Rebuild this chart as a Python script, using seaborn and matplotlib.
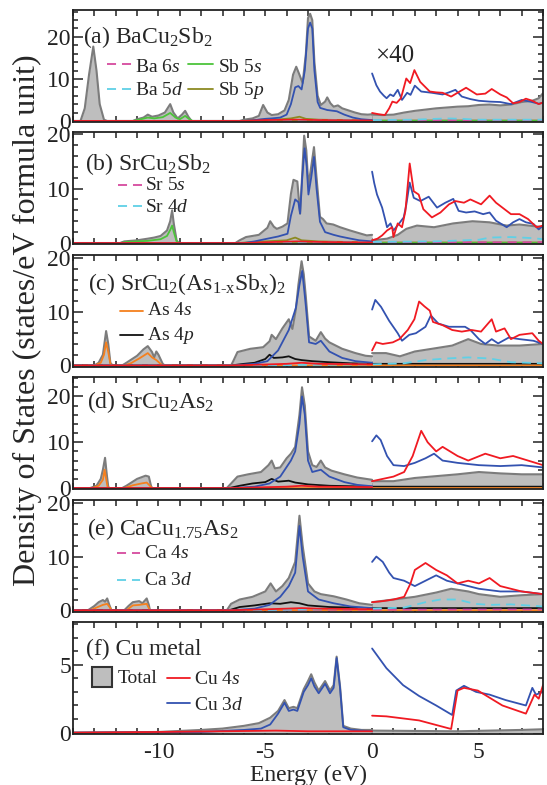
import matplotlib
matplotlib.use('Agg')
import matplotlib.pyplot as plt
import seaborn as sns
import pandas as pd
from matplotlib.ticker import MultipleLocator
from matplotlib.patches import Rectangle

# ---------------- data (energy eV, DOS) ----------------
# (a) BaCu2Sb2
A_TOT_N = [(-14,0),(-13.65,0),(-13.45,3),(-13.25,11),(-13.05,17.7),(-12.9,12),(-12.75,4),(-12.55,0.3),(-12.4,0),
           (-11.2,0),(-11.0,0.4),(-10.7,0.8),(-10.5,1.5),(-10.3,1.0),(-10.0,1.3),(-9.7,2.0),(-9.45,4.0),(-9.3,2.0),
           (-9.1,0.6),(-8.9,1.5),(-8.75,2.4),(-8.6,1.0),(-8.45,0),(-6.2,0),(-6.0,0.3),(-5.6,0.6),(-5.3,1.2),(-5.1,3.8),
           (-4.9,2.0),(-4.7,1.4),(-4.4,1.6),(-4.1,2.5),(-3.9,5),(-3.7,11),(-3.55,12.9),(-3.4,11),(-3.25,9),(-3.1,16),
           (-3.0,24.5),(-2.9,25.5),(-2.8,24),(-2.7,14),(-2.55,6),(-2.4,3.8),(-2.2,4.6),(-2.1,5.6),(-1.95,4.2),(-1.8,3.4),
           (-1.6,3.7),(-1.4,3.0),(-1.1,2.5),(-0.8,2.0),(-0.5,1.6),(-0.2,1.5),(0,1.6)]
A_TOT_P = [(0,1.5),(0.5,1.4),(1.0,1.5),(1.5,2.0),(2.0,2.4),(2.5,2.7),(3.0,3.0),(3.5,3.2),(4.0,3.4),(4.5,3.5),
           (5.0,3.8),(5.5,3.9),(6.0,3.7),(6.5,3.9),(7.0,4.5),(7.5,4.8),(7.8,5.4),(8.0,6.6)]
A_CU3D_N = [(-14,0),(-6.0,0),(-5.5,0.2),(-5.0,0.5),(-4.7,0.6),(-4.3,0.8),(-4.0,1.5),(-3.8,4),(-3.6,8.0),(-3.45,8.3),
            (-3.3,7.5),(-3.15,12),(-3.0,22),(-2.9,23.4),(-2.8,22),(-2.7,12),(-2.55,4.5),(-2.43,3.1),(-2.1,2.6),
            (-1.65,2.3),(-1.3,1.5),(-0.9,0.8),(-0.5,0.4),(0,0.2)]
A_CU3D_P = [(0,11.3),(0.2,8.5),(0.37,7.0),(0.55,6.0),(0.68,5.4),(0.85,6.3),(1.0,5.9),(1.2,7.4),(1.4,5.0),(1.64,6.7),
            (1.8,6.2),(2.0,8.4),(2.3,7.0),(2.8,6.7),(3.3,6.3),(3.6,6.8),(3.9,7.4),(4.2,5.8),(4.6,5.2),(5.0,4.8),
            (5.5,4.6),(6.0,4.5),(6.5,4.0),(7.0,5.0),(7.4,4.6),(7.8,4.1),(8.0,4.3)]
A_CU4S_N = [(-14,0),(-6,0),(-5,0.2),(-3.5,0.3),(-2.5,0.2),(0,0.1)]
A_CU4S_P = [(0,1.9),(0.3,1.6),(0.6,1.4),(0.8,3.0),(0.95,4.6),(1.15,4.3),(1.35,5.4),(1.6,10.1),(1.78,9.0),(1.98,12.1),
            (2.25,9.3),(2.7,7.0),(3.0,6.8),(3.3,6.7),(3.7,5.8),(4.1,7.0),(4.4,7.9),(4.9,6.3),(5.3,6.5),(5.6,7.6),
            (6.0,6.3),(6.3,5.6),(6.6,4.2),(6.9,4.5),(7.2,5.3),(7.5,4.8),(7.8,4.0),(8.0,4.4)]
A_SB5S = [(-14,0),(-11.2,0),(-10.9,0.3),(-10.5,0.8),(-10.2,0.6),(-9.8,0.9),(-9.45,1.9),(-9.2,0.8),(-9.0,0.4),
          (-8.75,1.2),(-8.55,0.4),(-8.4,0),(8,0)]
A_SB5P = [(-14,0),(-6,0),(-5.2,0.3),(-4.5,0.3),(-3.8,0.6),(-3.4,1.0),(-3.1,0.5),(-2.5,0.3),(0,0.1),(8,0.1)]
A_BA6S = [(-14,0),(-6,0),(-3,0.1),(0,0.1),(8,0.15)]
A_BA5D = [(-14,0),(-6,0),(-3,0.15),(0,0.2),(2,0.3),(3.5,0.6),(4.2,0.5),(5,0.3),(8,0.3)]

# (b) SrCu2Sb2
B_TOT_N = [(-14,0),(-11.8,0),(-11.6,0.3),(-11.0,0.5),(-10.5,0.8),(-10.2,1.0),(-9.9,1.3),(-9.6,2.3),(-9.45,4.0),
           (-9.36,6.0),(-9.28,3.5),(-9.15,0.5),(-9.05,0),(-6.4,0),(-6.2,0.5),(-5.9,1.1),(-5.3,1.5),(-4.9,2.8),
           (-4.77,4.0),(-4.6,3.0),(-4.46,2.6),(-4.2,3.0),(-3.96,3.6),(-3.8,9),(-3.68,11.6),(-3.5,11.3),(-3.37,5.4),
           (-3.28,12),(-3.18,19.7),(-3.08,17),(-2.98,10.5),(-2.85,14),(-2.72,17.6),(-2.6,12),(-2.44,4.8),(-2.3,4.4),
           (-2.13,3.6),(-1.82,3.4),(-1.5,2.9),(-1.03,2.3),(-0.6,1.8),(-0.25,1.4),(0,1.5)]
B_TOT_P = [(0,0.5),(0.7,0.8),(1.2,1.5),(1.6,2.6),(2.1,3.2),(2.9,2.9),(3.8,3.6),(4.7,4.0),(5.5,3.8),(6.3,3.2),
           (6.9,3.4),(8.0,2.9)]
B_CU3D_N = [(-14,0),(-6.0,0),(-5.5,0.3),(-4.9,0.8),(-4.4,1.2),(-3.96,1.7),(-3.8,5),(-3.6,8.0),(-3.45,7.5),(-3.37,5.4),
            (-3.27,12),(-3.16,17.4),(-3.06,14),(-2.98,8.9),(-2.85,12),(-2.72,15.8),(-2.6,10),(-2.44,3.9),(-2.2,2.0),
            (-1.8,1.5),(-1.5,1.2),(-1.0,0.8),(-0.6,0.5),(0,0.3)]
B_CU3D_P = [(0,13.1),(0.1,11),(0.23,8.9),(0.47,6.5),(0.6,4.5),(0.7,2.9),(0.86,3.6),(1.0,2.3),(1.25,3.5),(1.48,4.7),
            (1.6,7),(1.76,11.1),(1.95,8.3),(2.26,7.7),(2.65,8.5),(3.04,6.5),(3.43,7.4),(3.8,8.1),(4.05,5.9),(4.4,5.6),
            (4.8,5.8),(5.2,5.3),(5.5,5.6),(5.8,4.1),(6.3,2.9),(6.6,3.8),(6.9,4.4),(7.2,3.8),(7.55,3.5),(7.8,2.5),(8.0,3.2)]
B_CU4S_N = [(-14,0),(-6,0),(-4.5,0.2),(-3.5,0.3),(-2.5,0.2),(0,0.1)]
B_CU4S_P = [(0,0.5),(0.25,0.8),(0.47,1.4),(0.7,2.3),(0.94,2.9),(1.0,1.1),(1.2,3.6),(1.4,2.9),(1.56,5.9),(1.76,14.6),
            (1.95,9.5),(2.18,8.9),(2.4,6.2),(2.8,4.7),(3.2,5.6),(3.6,7.1),(3.9,7.7),(4.3,7.4),(4.6,8.0),(5.1,7.1),
            (5.5,8.7),(5.8,7.4),(6.1,6.5),(6.5,5.3),(6.9,5.3),(7.3,4.4),(7.7,2.9),(8.0,3.2)]
B_SB5S = [(-14,0),(-11.8,0),(-11.5,0.2),(-10.5,0.4),(-9.9,0.7),(-9.6,1.3),(-9.45,2.4),(-9.36,3.2),(-9.28,2.0),
          (-9.15,0.3),(-9.05,0),(8,0)]
B_SB5P = [(-14,0),(-6.3,0),(-5,0.3),(-4.0,0.5),(-3.6,1.0),(-3.3,0.5),(-2.5,0.3),(0,0.1),(8,0.1)]
B_SR5S = [(-14,0),(-6,0),(-3,0.1),(0,0.1),(8,0.15)]
B_SR4D = [(-14,0),(-6,0),(-3,0.15),(0,0.2),(3,0.3),(5,0.6),(5.5,1.0),(6.5,1.1),(7.5,0.9),(8,0.7)]

# (c) SrCu2(As1-xSbx)2
C_TOT_N = [(-14,0),(-13.0,0),(-12.8,0.5),(-12.6,2.0),(-12.45,6.4),(-12.35,4),(-12.25,0.5),(-12.15,0),(-11.7,0),
           (-11.5,0.5),(-11.0,1.8),(-10.7,3.0),(-10.5,3.6),(-10.3,2.5),(-10.2,1.5),(-10.1,2.6),(-10.0,2.0),(-9.8,0.3),
           (-9.7,0),(-6.6,0),(-6.5,0.8),(-6.3,2.5),(-5.7,3.1),(-5.1,3.4),(-4.8,4.5),(-4.7,5.7),(-4.5,4.9),(-4.2,6.9),
           (-3.9,8.6),(-3.73,6.8),(-3.57,10.4),(-3.45,15),(-3.3,19.4),(-3.2,17),(-3.1,12.7),(-2.95,5.4),(-2.64,4.6),
           (-2.4,6.2),(-2.2,5.0),(-2.0,4.3),(-1.4,3.1),(-0.78,2.3),(-0.3,1.8),(0,1.7)]
C_TOT_P = [(0,2.3),(0.65,2.3),(1.3,1.7),(2.0,2.6),(2.8,3.1),(3.75,3.7),(4.5,4.9),(5.1,4.0),(5.9,3.7),(6.9,3.7),(8.0,4.0)]
C_CU3D_N = [(-14,0),(-6.5,0),(-5.5,0.3),(-4.9,0.8),(-4.4,2.8),(-3.9,6.6),(-3.57,10.7),(-3.4,15),(-3.27,17.6),
            (-3.15,13),(-3.1,11),(-2.95,4.3),(-2.64,4.0),(-2.4,4.6),(-2.0,2.6),(-1.4,1.4),(-0.78,0.8),(0,0.5)]
C_CU3D_P = [(0,10.4),(0.15,12.2),(0.42,10.9),(0.8,8.3),(1.2,6.0),(1.4,4.6),(1.74,5.7),(2.05,6.0),(2.5,7.2),(2.75,9.3),
            (3.1,7.8),(3.6,7.2),(4.35,7.2),(4.6,6.6),(5.0,4.9),(5.3,4.0),(5.6,4.9),(5.9,4.1),(6.4,5.2),(6.9,4.9),
            (7.55,4.6),(8.0,4.0)]
C_CU4S_N = [(-14,0),(-6.5,0),(-4,0.3),(-3.3,0.5),(-2.5,0.3),(0,0.2)]
C_CU4S_P = [(0,2.8),(0.19,4.3),(0.5,4.0),(0.97,4.3),(1.28,4.9),(1.67,6.6),(1.98,8.6),(2.2,11.9),(2.45,11.0),(2.7,10.2),
            (2.85,8.1),(3.3,7.5),(3.75,6.6),(4.2,6.3),(4.66,6.6),(5.1,6.3),(5.6,8.6),(5.8,6.3),(6.2,6.9),(6.5,4.9),
            (6.9,5.7),(7.5,6.0),(7.8,4.6),(8.0,4.0)]
C_AS4S = [(-14,0),(-13.0,0),(-12.7,0.5),(-12.55,2),(-12.45,4.3),(-12.35,2.5),(-12.25,0.3),(-12.15,0),(-11.6,0),
          (-11.3,0.4),(-10.9,1.3),(-10.5,2.3),(-10.3,1.5),(-10.1,1.0),(-9.9,0.3),(-9.8,0),(8,0)]
C_AS4P = [(-14,0),(-6.6,0),(-6.0,0.3),(-5.5,0.5),(-5.0,1.2),(-4.8,2.0),(-4.6,1.4),(-4.2,1.5),(-3.9,1.7),(-3.6,1.2),
          (-3.3,1.0),(-2.8,0.8),(-2.0,0.6),(-1.0,0.4),(0,0.3),(8,0.3)]
C_SR4D = [(-14,0),(-6,0),(-3,0.1),(0,0.2),(1.5,0.4),(2.5,1.0),(3.5,1.3),(4.5,1.5),(5.5,1.3),(6.5,0.6),(8,0.4)]

# (d) SrCu2As2
D_TOT_N = [(-14,0),(-13.2,0),(-12.9,0.5),(-12.7,2),(-12.6,4),(-12.5,6.6),(-12.42,3),(-12.35,0.3),(-12.3,0),(-11.7,0),
           (-11.5,0.5),(-11.0,2.0),(-10.6,2.7),(-10.45,2.5),(-10.35,0.5),(-10.3,0),(-6.8,0),(-6.6,1.0),(-6.3,2.5),
           (-5.8,3.0),(-5.2,3.5),(-4.85,5.0),(-4.7,6.0),(-4.55,4.3),(-4.3,4.5),(-4.0,6.5),(-3.8,7.5),(-3.6,9),
           (-3.4,16),(-3.28,22),(-3.15,18),(-3.0,8),(-2.8,5.0),(-2.6,4.6),(-2.4,6.0),(-2.2,4.5),(-1.9,3.8),(-1.3,3.0),
           (-0.7,2.3),(0,1.8)]
D_TOT_P = [(0,1.5),(1,1.5),(2,2.2),(3,2.6),(4,3.0),(5,3.5),(6,3.2),(7,3.0),(8,3.0)]
D_CU3D_N = [(-14,0),(-6.5,0),(-5.5,0.3),(-4.8,1.0),(-4.3,2.5),(-3.8,6.0),(-3.6,8),(-3.4,14),(-3.28,20),(-3.15,16),
            (-3.0,6),(-2.8,3.5),(-2.4,4.0),(-2.0,2.5),(-1.3,1.3),(-0.7,0.7),(0,0.4)]
D_CU3D_P = [(0,10.2),(0.2,11.5),(0.4,10.5),(0.7,7),(1.0,5),(1.5,4.8),(2.0,5.5),(2.5,6.5),(2.9,7.5),(3.3,6),(4.0,5.5),
            (5.0,5),(6.0,4.8),(7.0,5),(8.0,4.5)]
D_CU4S_N = [(-14,0),(-6.5,0),(-4,0.3),(-3.3,0.5),(-2.5,0.3),(0,0.2)]
D_CU4S_P = [(0,1.5),(0.5,2),(1.0,2.5),(1.5,3.5),(1.9,7),(2.3,12.5),(2.6,10),(3.0,8),(3.3,9),(4.0,7),(4.5,6),(5.3,7.5),
            (6.0,6.5),(6.6,7),(7.3,6),(8.0,5)]
D_AS4S = [(-14,0),(-13.1,0),(-12.8,0.5),(-12.6,1.8),(-12.52,4.0),(-12.45,2),(-12.38,0.2),(-12.3,0),(-11.6,0),
          (-11.2,0.6),(-10.8,1.0),(-10.55,1.2),(-10.4,0.5),(-10.3,0),(8,0)]
D_AS4P = [(-14,0),(-6.7,0),(-6.2,0.5),(-5.6,1.0),(-5.0,1.3),(-4.7,2.0),(-4.4,1.4),(-3.9,1.6),(-3.6,1.2),(-3.0,0.8),
          (-2,0.5),(0,0.3),(8,0.3)]

# (e) CaCu1.75As2
E_TOT_N = [(-14,0),(-13.3,0),(-13.0,0.8),(-12.8,1.5),(-12.6,1.9),(-12.5,1.6),(-12.4,2.2),(-12.3,1.0),(-12.2,0),
           (-11.6,0),(-11.4,0.8),(-11.2,1.5),(-10.9,1.7),(-10.75,1.3),(-10.55,2.2),(-10.45,1.0),(-10.4,0),(-6.8,0),
           (-6.6,1.2),(-6.2,2.0),(-5.6,2.5),(-5.0,3.5),(-4.75,5.0),(-4.5,3.5),(-4.2,4.5),(-3.9,6.0),(-3.6,9),
           (-3.4,17.6),(-3.25,12),(-3.0,5),(-2.7,3.5),(-2.4,3.0),(-1.8,2.6),(-1.2,2.0),(-0.6,1.3),(0,1.0)]
E_TOT_P = [(0,1.5),(1,2.0),(2,2.5),(3,3.3),(3.7,4.0),(4.5,3.5),(5,3.0),(6,2.5),(7,2.8),(8,3.0)]
E_CU3D_N = [(-14,0),(-6.5,0),(-5.5,0.3),(-4.8,1.0),(-4.3,2.5),(-3.9,4.5),(-3.6,7),(-3.4,15.7),(-3.25,10),(-3.0,3.5),
            (-2.5,2.0),(-1.8,1.3),(-1.0,0.7),(0,0.4)]
E_CU3D_P = [(0,9.0),(0.2,10.0),(0.5,9.0),(0.8,7.0),(1.0,6.0),(1.5,5.5),(2.0,4.5),(2.5,5.5),(3.0,6.5),(3.5,5.5),
            (4.0,5.0),(5.0,4.0),(6.0,3.5),(7.0,3.5),(8.0,3.0)]
E_CU4S_N = [(-14,0),(-6.5,0),(-4,0.3),(-3.3,0.4),(-2.5,0.3),(0,0.2)]
E_CU4S_P = [(0,1.5),(0.5,1.7),(1.0,2.0),(1.5,2.5),(1.8,5.0),(2.0,7.5),(2.5,8.8),(3.0,7.5),(3.5,6.5),(4.0,5.0),
            (4.5,5.5),(5.0,5.0),(5.5,6.0),(6.0,4.5),(7.0,3.5),(8.0,3.0)]
E_AS4S = [(-14,0),(-13.2,0),(-12.9,0.5),(-12.6,1.0),(-12.4,1.2),(-12.25,0.4),(-12.2,0),(-11.5,0),(-11.2,0.9),
          (-10.9,1.0),(-10.55,1.2),(-10.4,0),(8,0)]
E_AS4P = [(-14,0),(-6.7,0),(-6.2,0.6),(-5.5,0.9),(-4.8,1.3),(-4.3,1.2),(-3.8,1.5),(-3.4,1.3),(-3,0.9),(-2,0.6),
          (0,0.4),(8,0.4)]
E_CA4S = [(-14,0),(-6,0),(-3,0.1),(0,0.1),(8,0.15)]
E_CA3D = [(-14,0),(-6,0),(-3,0.15),(0,0.3),(1.5,0.5),(2.5,1.5),(3.2,2.0),(4,2.0),(4.8,1.2),(5.5,1.0),(6.5,1.1),(8,0.7)]

# (f) Cu metal
F_TOT_N = [(-14,0),(-10,0.05),(-8,0.2),(-7,0.3),(-6,0.5),(-5.3,0.7),(-4.77,1.1),(-4.4,1.6),(-4.1,2.4),(-3.9,1.8),
           (-3.68,1.9),(-3.5,1.8),(-3.2,3.2),(-3.0,3.8),(-2.85,4.3),(-2.7,3.7),(-2.5,3.1),(-2.2,3.8),(-1.97,3.1),
           (-1.8,3.5),(-1.66,5.6),(-1.5,3.4),(-1.35,0.5),(-1.0,0.3),(-0.5,0.2),(0,0.2)]
F_TOT_P = [(0,0.15),(4,0.1),(7,0.2),(8,0.25)]
F_CU3D_N = [(-14,0),(-8,0.05),(-6,0.2),(-5.2,0.3),(-4.77,0.6),(-4.4,1.4),(-4.1,2.2),(-3.9,1.6),(-3.68,1.7),(-3.5,1.6),
            (-3.2,3.0),(-3.0,3.5),(-2.85,4.0),(-2.7,3.4),(-2.5,2.9),(-2.2,3.6),(-1.97,2.9),(-1.8,3.3),(-1.66,5.5),
            (-1.5,3.3),(-1.35,0.4),(-1.0,0.2),(0,0.1)]
F_CU3D_P = [(0,6.2),(0.67,4.75),(1.45,3.5),(2.2,2.7),(3.0,2.0),(3.75,1.3),(3.94,3.1),(4.3,3.45),(4.87,3.0),(5.5,2.8),
            (6.25,2.4),(7.2,2.0),(7.5,3.3),(7.67,2.8),(8.0,3.0)]
F_CU4S_N = [(-14,0),(-10,0.05),(-6,0.12),(-4.5,0.15),(-3,0.1),(-1.5,0.1),(0,0.1)]
F_CU4S_P = [(0,1.25),(0.67,1.2),(2.2,0.9),(3.7,0.27),(4.0,3.1),(4.3,3.3),(4.95,3.1),(6.1,2.0),(7.2,1.4),(7.6,2.8),
            (7.8,2.5),(8.0,3.5)]

PANEL_LABELS = ['(a) BaCu$_2$Sb$_2$', '(b) SrCu$_2$Sb$_2$',
                r'(c) SrCu$_2$(As$_{\mathregular{1\text{-}x}}$Sb$_{\mathregular{x}}$)$_2$',
                '(d) SrCu$_2$As$_2$', '(e) CaCu$_{1.75}$As$_2$', '(f) Cu metal']

# ---------------- style ----------------
GRAY_FILL = '#bebebe'
GRAY_EDGE = '#7c7c7c'
BLUE = '#3352b0'
RED = '#f01a22'
GREEN = '#4cc43a'
OLIVE = '#8c8a22'
MAGENTA = '#d54a9e'
CYAN = '#5fd0e6'
ORANGE = '#f5801e'
BLACK = '#111111'
DASH = (0, (5, 3.3))

sns.set_theme(style='ticks')
plt.rcParams.update({
    'font.family': ['Liberation Serif', 'DejaVu Serif'],
    'mathtext.fontset': 'custom',
    'mathtext.rm': 'Liberation Serif',
    'mathtext.it': 'Liberation Serif:italic',
    'mathtext.bf': 'Liberation Serif:bold',
    'mathtext.default': 'regular',
    'axes.unicode_minus': False,
    'axes.linewidth': 1.3,
    'axes.edgecolor': '#222222',
})

fig = plt.figure(figsize=(5.47, 7.85), dpi=100)
gs = fig.add_gridspec(6, 1, left=73/547, right=543/547, top=1-10/785, bottom=1-734/785, hspace=0.093)
axes = [fig.add_subplot(gs[i, 0]) for i in range(6)]


def line(ax, pts, color, lw=1.3, ls='-', z=3):
    df = pd.DataFrame(pts, columns=['E', 'DOS'])
    sns.lineplot(data=df, x='E', y='DOS', ax=ax, color=color, linewidth=lw, linestyle=ls,
                 estimator=None, sort=False, legend=False, zorder=z)


def total(ax, pts):
    df = pd.DataFrame(pts, columns=['E', 'DOS'])
    ax.fill_between(df['E'], 0, df['DOS'], color=GRAY_FILL, lw=0, zorder=1)
    sns.lineplot(data=df, x='E', y='DOS', ax=ax, color=GRAY_EDGE, linewidth=1.5,
                 estimator=None, sort=False, legend=False, zorder=2)


panels = [
    dict(tot=[A_TOT_N, A_TOT_P], ylim=(-0.25, 26.4),
         lines=[(A_SB5P, OLIVE, '-'), (A_SB5S, GREEN, '-'), (A_BA6S, MAGENTA, DASH), (A_BA5D, CYAN, DASH),
                (A_CU3D_N, BLUE, '-'), (A_CU3D_P, BLUE, '-'), (A_CU4S_N, RED, '-'), (A_CU4S_P, RED, '-')]),
    dict(tot=[B_TOT_N, B_TOT_P], ylim=(-0.25, 20.3),
         lines=[(B_SB5P, OLIVE, '-'), (B_SB5S, GREEN, '-'), (B_SR5S, MAGENTA, DASH), (B_SR4D, CYAN, DASH),
                (B_CU3D_N, BLUE, '-'), (B_CU3D_P, BLUE, '-'), (B_CU4S_N, RED, '-'), (B_CU4S_P, RED, '-')]),
    dict(tot=[C_TOT_N, C_TOT_P], ylim=(-0.25, 20.6),
         lines=[(C_AS4P, BLACK, '-'), (C_AS4S, ORANGE, '-'), (C_SR4D, CYAN, DASH),
                (C_CU3D_N, BLUE, '-'), (C_CU3D_P, BLUE, '-'), (C_CU4S_N, RED, '-'), (C_CU4S_P, RED, '-')]),
    dict(tot=[D_TOT_N, D_TOT_P], ylim=(-0.25, 24.2),
         lines=[(D_AS4P, BLACK, '-'), (D_AS4S, ORANGE, '-'),
                (D_CU3D_N, BLUE, '-'), (D_CU3D_P, BLUE, '-'), (D_CU4S_N, RED, '-'), (D_CU4S_P, RED, '-')]),
    dict(tot=[E_TOT_N, E_TOT_P], ylim=(-0.25, 20.6),
         lines=[(E_AS4P, BLACK, '-'), (E_AS4S, ORANGE, '-'), (E_CA4S, MAGENTA, DASH), (E_CA3D, CYAN, DASH),
                (E_CU3D_N, BLUE, '-'), (E_CU3D_P, BLUE, '-'), (E_CU4S_N, RED, '-'), (E_CU4S_P, RED, '-')]),
    dict(tot=[F_TOT_N, F_TOT_P], ylim=(-0.1, 8.15),
         lines=[(F_CU3D_N, BLUE, '-'), (F_CU3D_P, BLUE, '-'), (F_CU4S_N, RED, '-'), (F_CU4S_P, RED, '-')]),
]

label_pos = [(0.021, 0.705), (0.026, 0.664), (0.032, 0.686), (0.030, 0.725), (0.030, 0.685), (0.028, 0.705)]

for i, (ax, p) in enumerate(zip(axes, panels)):
    for t in p['tot']:
        total(ax, t)
    for pts, c, ls in p['lines']:
        line(ax, pts, c, ls=ls)
    ax.set_xlim(-14, 8)
    ax.set_ylim(*p['ylim'])
    ax.set_xlabel('')
    ax.set_ylabel('')
    ax.xaxis.set_major_locator(MultipleLocator(5))
    ax.xaxis.set_minor_locator(MultipleLocator(1))
    if i < 5:
        ax.yaxis.set_major_locator(MultipleLocator(10))
        ax.yaxis.set_minor_locator(MultipleLocator(2))
    else:
        ax.yaxis.set_major_locator(MultipleLocator(5))
        ax.yaxis.set_minor_locator(MultipleLocator(1))
    ax.tick_params(which='both', direction='in', top=True, right=True, bottom=True, left=True,
                   colors='#222222', width=1.1)
    ax.tick_params(which='major', length=7)
    ax.tick_params(which='minor', length=3.5)
    ax.tick_params(axis='x', which='major', length=4, pad=6, labelsize=17)
    ax.tick_params(axis='y', pad=1.5, labelsize=17)
    ax.tick_params(axis='x', which='minor', length=4)
    if i < 5:
        ax.tick_params(axis='x', labelbottom=False)
    for s in ax.spines.values():
        s.set_zorder(10)
    lx, ly = label_pos[i]
    ax.text(lx, ly, PANEL_LABELS[i], transform=ax.transAxes, fontsize=17, ha='left', va='baseline', zorder=11)


def leg_line(ax, x0, x1, y, color, ls, tx, ty, txt):
    ax.plot([x0, x1], [y, y], transform=ax.transAxes, color=color, lw=1.3, linestyle=ls, zorder=11, clip_on=False)
    ax.text(tx, ty, txt, transform=ax.transAxes, fontsize=14, ha='left', va='baseline', zorder=11)


# (a) legend
leg_line(axes[0], 0.072, 0.126, 0.518, MAGENTA, DASH, 0.132, 0.449, r'Ba $\mathit{6s}$')
leg_line(axes[0], 0.072, 0.126, 0.295, CYAN, DASH, 0.132, 0.241, r'Ba $\mathit{5d}$')
leg_line(axes[0], 0.245, 0.298, 0.518, GREEN, '-', 0.309, 0.449, r'Sb $\mathit{5s}$')
leg_line(axes[0], 0.245, 0.298, 0.295, OLIVE, '-', 0.309, 0.241, r'Sb $\mathit{5p}$')
axes[0].text(0.643, 0.536, '×40', transform=axes[0].transAxes, fontsize=18, ha='left', va='baseline')
# (b)
leg_line(axes[1], 0.096, 0.147, 0.530, MAGENTA, DASH, 0.153, 0.486, r'Sr $\mathit{5s}$')
leg_line(axes[1], 0.096, 0.147, 0.343, CYAN, DASH, 0.153, 0.289, r'Sr $\mathit{4d}$')
# (c)
leg_line(axes[2], 0.100, 0.149, 0.501, ORANGE, '-', 0.157, 0.462, r'As $\mathit{4s}$')
leg_line(axes[2], 0.100, 0.149, 0.284, BLACK, '-', 0.157, 0.239, r'As $\mathit{4p}$')
# (e)
leg_line(axes[4], 0.094, 0.143, 0.522, MAGENTA, DASH, 0.151, 0.477, r'Ca $\mathit{4s}$')
leg_line(axes[4], 0.094, 0.143, 0.282, CYAN, DASH, 0.151, 0.238, r'Ca $\mathit{3d}$')
# (f)
axf = axes[5]
axf.add_patch(Rectangle((0.040, 0.420), 0.043, 0.178, transform=axf.transAxes, facecolor=GRAY_FILL,
                        edgecolor='#333333', lw=1.5, zorder=11))
axf.text(0.096, 0.455, 'Total', transform=axf.transAxes, fontsize=14, ha='left', va='baseline')
leg_line(axf, 0.200, 0.249, 0.500, RED, '-', 0.257, 0.446, r'Cu $\mathit{4s}$')
leg_line(axf, 0.200, 0.249, 0.277, BLUE, '-', 0.257, 0.214, r'Cu $\mathit{3d}$')

fig.text(27/547, 0.592, 'Density of States (states/eV formula unit)', rotation=90, fontsize=23,
         ha='center', va='center')
fig.text(308/547, 1-781/785, 'Energy (eV)', fontsize=17, ha='center', va='baseline')

fig.savefig('out.png', dpi=100)
